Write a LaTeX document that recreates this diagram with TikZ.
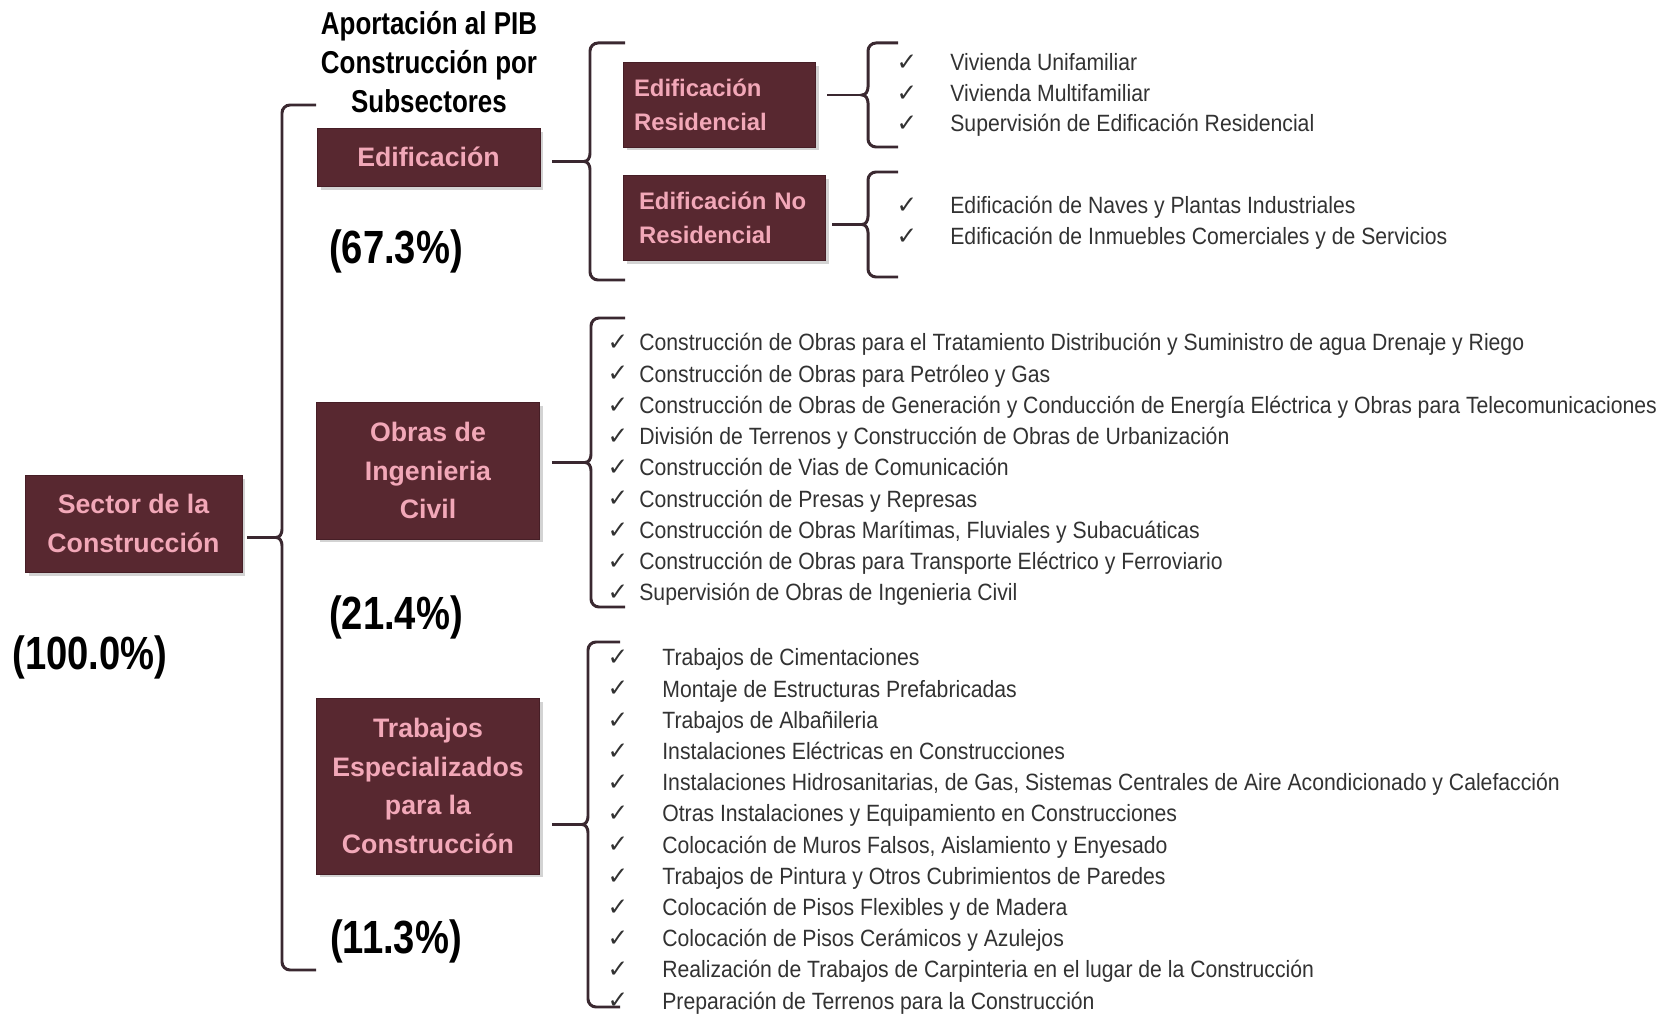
\documentclass[tikz,border=0pt]{standalone}
\usepackage{fontspec}
\setmainfont{Liberation Sans}
\newfontfamily\narrowfont[FakeStretch=0.82]{Liberation Sans}
\newfontfamily\listfont[FakeStretch=0.9]{Liberation Sans}
\newfontfamily\tickfont{DejaVu Sans}
\usepackage{tikz}
\usetikzlibrary{shadows, calc}
\definecolor{BoxMaroon}{RGB}{88,40,48}
\definecolor{BoxEdge}{RGB}{70,30,38}
\definecolor{BoxPink}{RGB}{242,168,184}
\definecolor{BraceInk}{RGB}{58,40,48}
\definecolor{ListGrey}{RGB}{50,50,50}

% bracket: name of tip, x, top, bottom, hook end
\newcommand{\llave}[5]{%
  \coordinate (#1) at ({#2-6},{(#3+#4)/2});
  \draw[brace] (#5,#3) -- ({#2+8},#3) to[out=180,in=90] (#2,{#3+8})
    -- (#2,{(#3+#4)/2-8}) to[out=-90,in=0] (#1) to[out=0,in=90] (#2,{(#3+#4)/2+8})
    -- (#2,{#4-8}) to[out=-90,in=180] ({#2+8},#4) -- (#5,#4);}

\begin{document}
\begin{tikzpicture}[x=0.02cm, y=-0.02cm,
  mainbox/.style={fill=BoxMaroon, draw=BoxEdge, text=BoxPink,
                  font=\fontsize{15.2}{22}\selectfont\bfseries, align=center,
                  minimum width=4.46cm, inner sep=0pt,
                  drop shadow={shadow xshift=2pt, shadow yshift=-2pt, opacity=0.35}},
  subbox/.style={fill=BoxMaroon, draw=BoxEdge, text=BoxPink,
                 font=\fontsize{13.6}{19.4}\selectfont\bfseries, align=left,
                 minimum height=1.7cm, inner sep=0pt, text width=3.4cm,
                 drop shadow={shadow xshift=2pt, shadow yshift=-2pt, opacity=0.35}},
  pct/.style={font=\narrowfont\bfseries\fontsize{26.5}{30}\selectfont},
  heading/.style={font=\narrowfont\bfseries\fontsize{18}{22.2}\selectfont, align=center},
  item/.style={anchor=west, inner sep=0pt, text=ListGrey, text height=9.6pt, text depth=2.8pt,
               font=\listfont\fontsize{13.4}{16}\selectfont},
  tick/.style={inner sep=0pt, text=ListGrey, font=\tickfont\fontsize{14}{16}\selectfont},
  brace/.style={draw=BraceInk, line width=1.7pt},
  link/.style={draw=BraceInk, line width=1.7pt, shorten <=0.24cm},
]
\useasboundingbox (0,0) rectangle (1668,1016);

% Title
\node[heading] (title) at (429,62) {Aportación al PIB\\Construcción por\\Subsectores};

% Boxes
\node[mainbox, minimum width=4.34cm, minimum height=1.94cm] (sector) at (133.5,523.5)
  {Sector de la\\Construcción};
\node[mainbox, minimum height=1.16cm] (edif) at (428.5,157) {Edificación};
\node[mainbox, minimum height=2.74cm] (obras) at (428,470.5) {Obras de\\Ingenieria\\Civil};
\node[mainbox, minimum height=3.52cm] (trab) at (428,786)
  {Trabajos\\Especializados\\para la\\Construcción};
\node[subbox, minimum width=3.84cm] (resid) at (719,104.5) {Edificación\\Residencial};
\node[subbox, minimum width=4.04cm] (nores) at (724,217.5) {Edificación No\\Residencial};

% Percentages
\node[pct] (p-total) at (90,657) {(100.0\%)};
\node[pct] (p-edif) at (396,251) {(67.3\%)};
\node[pct] (p-obras) at (396,617) {(21.4\%)};
\node[pct] (p-trab) at (396,941) {(11.3\%)};

% Brackets
\llave{b-sector}{282}{105}{970}{316}
\llave{b-edif}{590}{43}{280}{625}
\llave{b-obras}{591}{318}{607}{625}
\llave{b-trab}{588}{642}{1007}{620}
\llave{b-resid}{868}{43}{147}{898}
\llave{b-nores}{868}{172}{277}{898}

\draw[link, shorten <=0.1cm] (sector.east |- b-sector) -- (b-sector);
\draw[link] (edif.east |- b-edif) -- (b-edif);
\draw[link] (obras.east |- b-obras) -- (b-obras);
\draw[link] (trab.east |- b-trab) -- (b-trab);
\draw[link] (resid.east |- b-resid) -- (b-resid);
\draw[link, shorten <=0.14cm] (nores.east |- b-nores) -- (b-nores);

% Residential items
\foreach \i/\txt in {1/Vivienda Unifamiliar, 2/Vivienda Multifamiliar,
                     3/Supervisión de Edificación Residencial}
{
  \node[tick] (t-resid-\i) at (907,{63+30.5*(\i-1)}) {✓};
  \node[item] (resid-\i) at (950,{65+30.5*(\i-1)}) {\txt};
}
\foreach \i/\txt in {1/Edificación de Naves y Plantas Industriales,
                     2/Edificación de Inmuebles Comerciales y de Servicios}
{
  \node[tick] (t-nores-\i) at (907,{206+31*(\i-1)}) {✓};
  \node[item] (nores-\i) at (950,{208+31*(\i-1)}) {\txt};
}

% Civil works items
\foreach \i/\txt in {
  1/{Construcción de Obras para el Tratamiento Distribución y Suministro de agua Drenaje y Riego},
  2/{Construcción de Obras para Petróleo y Gas},
  3/{Construcción de Obras de Generación y Conducción de Energía Eléctrica y Obras para Telecomunicaciones},
  4/{División de Terrenos y Construcción de Obras de Urbanización},
  5/{Construcción de Vias de Comunicación},
  6/{Construcción de Presas y Represas},
  7/{Construcción de Obras Marítimas, Fluviales y Subacuáticas},
  8/{Construcción de Obras para Transporte Eléctrico y Ferroviario},
  9/{Supervisión de Obras de Ingenieria Civil}}
{
  \node[tick] (t-obra-\i) at (618,{343+31.25*(\i-1)}) {✓};
  \node[item] (obra-\i) at (639,{345+31.25*(\i-1)}) {\txt};
}

% Specialised works items
\foreach \i/\txt in {
  1/{Trabajos de Cimentaciones},
  2/{Montaje de Estructuras Prefabricadas},
  3/{Trabajos de Albañileria},
  4/{Instalaciones Eléctricas en Construcciones},
  5/{Instalaciones Hidrosanitarias, de Gas, Sistemas Centrales de Aire Acondicionado y Calefacción},
  6/{Otras Instalaciones y Equipamiento en Construcciones},
  7/{Colocación de Muros Falsos, Aislamiento y Enyesado},
  8/{Trabajos de Pintura y Otros Cubrimientos de Paredes},
  9/{Colocación de Pisos Flexibles y de Madera},
  10/{Colocación de Pisos Cerámicos y Azulejos},
  11/{Realización de Trabajos de Carpinteria en el lugar de la Construcción},
  12/{Preparación de Terrenos para la Construcción}}
{
  \node[tick] (t-trab-\i) at (618,{658+31.2*(\i-1)}) {✓};
  \node[item] (trab-\i) at (662,{660+31.2*(\i-1)}) {\txt};
}
\end{tikzpicture}
\end{document}
